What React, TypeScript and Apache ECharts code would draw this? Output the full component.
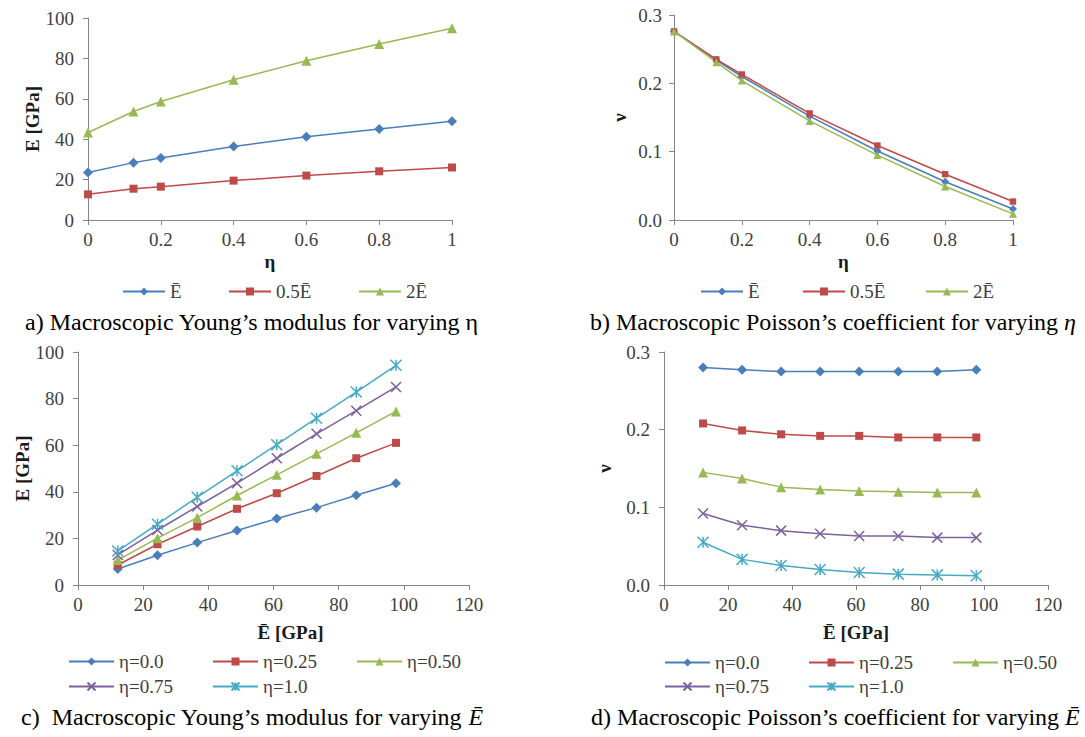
import React, { useEffect, useRef } from "react";
import * as echarts from "echarts";

// ---------- data ----------
const etaValues = [0, 0.125, 0.2, 0.4, 0.6, 0.8, 1];
const ebarValues = [12.2, 24.4, 36.6, 48.8, 61, 73.2, 85.4, 97.6];

const etaSeriesNames = ["Ē", "0.5Ē", "2Ē"];
const youngEtaE = [23.5, 28.4, 30.7, 36.4, 41.2, 45.1, 48.9];
const youngEtaHalf = [12.7, 15.5, 16.5, 19.5, 22.0, 24.1, 26.0];
const youngEtaDouble = [43.3, 53.7, 58.7, 69.4, 78.8, 87.1, 94.9];

const poissonEtaE = [0.276, 0.234, 0.21, 0.152, 0.101, 0.056, 0.016];
const poissonEtaHalf = [0.276, 0.235, 0.213, 0.156, 0.109, 0.067, 0.027];
const poissonEtaDouble = [0.276, 0.231, 0.204, 0.145, 0.095, 0.049, 0.009];

const ebarSeriesNames = ["η=0.0", "η=0.25", "η=0.50", "η=0.75", "η=1.0"];
const youngE_eta000 = [6.9, 12.8, 18.2, 23.4, 28.5, 33.2, 38.5, 43.7];
const youngE_eta025 = [8.6, 17.5, 25.1, 32.7, 39.4, 46.8, 54.4, 61.0];
const youngE_eta050 = [10.7, 20.1, 28.9, 38.4, 47.3, 56.3, 65.3, 74.5];
const youngE_eta075 = [12.9, 23.6, 33.7, 43.7, 54.4, 64.9, 74.8, 85.0];
const youngE_eta100 = [14.6, 26.1, 37.7, 49.0, 60.2, 71.6, 82.8, 94.3];

const poissonE_eta000 = [0.28, 0.277, 0.275, 0.275, 0.275, 0.275, 0.275, 0.277];
const poissonE_eta025 = [0.208, 0.199, 0.194, 0.192, 0.192, 0.19, 0.19, 0.19];
const poissonE_eta050 = [0.145, 0.137, 0.126, 0.123, 0.121, 0.12, 0.119, 0.119];
const poissonE_eta075 = [0.092, 0.077, 0.07, 0.066, 0.063, 0.063, 0.061, 0.061];
const poissonE_eta100 = [0.055, 0.033, 0.025, 0.02, 0.016, 0.014, 0.013, 0.012];

const captionA = ["a) Macroscopic Young’s modulus for varying η", ""];
const captionB = ["b) Macroscopic Poisson’s coefficient for varying ", "η"];
const captionC = ["c)  Macroscopic Young’s modulus for varying ", "Ē"];
const captionD = ["d) Macroscopic Poisson’s coefficient for varying ", "Ē"];

// ---------- styles ----------
const FONT = "Liberation Serif";
const COLORS = ["#4A7EBB", "#BE4B48", "#98B954", "#7D60A0", "#46AAC5"];
const X_SYMBOL = "path://M0,0L10,10M10,0L0,10";
const STAR_SYMBOL = "path://M0,0L10,10M10,0L0,10M5,0L5,10";
const SYMBOLS = ["diamond", "rect", "triangle", X_SYMBOL, STAR_SYMBOL];
const SIZES = [10, 8, 10, 10, 11];

const zip = (xs: number[], ys: number[]) => xs.map((x, i) => [x, ys[i]]);

function makeSeries(name: string, idx: number, xs: number[], ys: number[], scale = 1) {
  const stroked = idx >= 3;
  return {
    type: "line",
    name,
    data: zip(xs, ys),
    symbol: SYMBOLS[idx],
    symbolSize: SIZES[idx] * scale,
    lineStyle: { color: COLORS[idx], width: 1.5 },
    itemStyle: stroked
      ? { color: COLORS[idx], borderColor: COLORS[idx], borderWidth: 1.5 }
      : { color: COLORS[idx] },
  };
}

const axisBase = () => ({
  type: "value",
  axisLine: { show: true, onZero: false, lineStyle: { color: "#868686", width: 1 } },
  axisTick: { show: true, length: 5, lineStyle: { color: "#868686" } },
  splitLine: { show: false },
  nameLocation: "middle",
  nameTextStyle: { fontFamily: FONT, fontSize: 19, fontWeight: "bold", color: "#1a1a1a" },
});
const labelBase = () => ({ fontFamily: FONT, fontSize: 19, color: "#404040" });

function legendItem(name: string, left: number, cy: number, w: number) {
  return {
    data: [name],
    left,
    top: cy - 10,
    padding: 0,
    itemWidth: w,
    itemHeight: 10,
    textStyle: { fontFamily: FONT, fontSize: 19, color: "#404040" },
  };
}

function measure(text: string, font: string) {
  const ctx = document.createElement("canvas").getContext("2d");
  if (!ctx) return text.length * 10;
  ctx.font = font;
  return ctx.measureText(text).width;
}

function caption(parts: string[], left: number, top: number) {
  const els: any[] = [
    { type: "text", left, top, style: { text: parts[0], fontFamily: FONT, fontSize: 24, fill: "#000" } },
  ];
  if (parts[1]) {
    const w = measure(parts[0], `24px ${FONT}`);
    els.push({
      type: "text", left: left + w, top,
      style: { text: parts[1], fontFamily: FONT, fontSize: 24, fontStyle: "italic", fill: "#000" },
    });
  }
  return els;
}

const fmt1 = (v: number) => v.toFixed(1);
const fmtEta = (v: number) => String(+v.toFixed(1));

function buildOptions(): any[] {
  const a = {
    grid: { left: 88, top: 18, width: 364, height: 202 },
    xAxis: { ...axisBase(), min: 0, max: 1, interval: 0.2, name: "η", nameGap: 32,
      axisLabel: { ...labelBase(), margin: 10, formatter: fmtEta } },
    yAxis: { ...axisBase(), min: 0, max: 100, interval: 20, name: "E [GPa]", nameGap: 29,
      axisLabel: { ...labelBase(), margin: 14 } },
    legend: [
      legendItem(etaSeriesNames[0], 122, 292, 42),
      legendItem(etaSeriesNames[1], 228, 292, 42),
      legendItem(etaSeriesNames[2], 358, 292, 42),
    ],
    series: [
      makeSeries(etaSeriesNames[0], 0, etaValues, youngEtaE),
      makeSeries(etaSeriesNames[1], 1, etaValues, youngEtaHalf),
      makeSeries(etaSeriesNames[2], 2, etaValues, youngEtaDouble),
    ],
    graphic: caption(captionA, 25, 310),
  };
  const b = {
    grid: { left: 674, top: 15, width: 339, height: 205 },
    xAxis: { ...axisBase(), min: 0, max: 1, interval: 0.2, name: "η", nameGap: 32,
      axisLabel: { ...labelBase(), margin: 10, formatter: fmtEta } },
    yAxis: { ...axisBase(), min: 0, max: 0.3, interval: 0.1, name: "ν", nameGap: 45,
      axisLabel: { ...labelBase(), margin: 12, formatter: fmt1 } },
    legend: [
      legendItem(etaSeriesNames[0], 700, 292, 42),
      legendItem(etaSeriesNames[1], 802, 292, 42),
      legendItem(etaSeriesNames[2], 925, 292, 42),
    ],
    series: [
      makeSeries(etaSeriesNames[0], 0, etaValues, poissonEtaE, 0.8),
      makeSeries(etaSeriesNames[1], 1, etaValues, poissonEtaHalf, 0.8),
      makeSeries(etaSeriesNames[2], 2, etaValues, poissonEtaDouble, 0.8),
    ],
    graphic: caption(captionB, 590, 310),
  };
  const xc = axisBase();
  const c = {
    grid: { left: 78, top: 352, width: 391, height: 233 },
    xAxis: { ...xc, min: 0, max: 120, interval: 20, name: "Ē [GPa]", nameGap: 38,
      nameTextStyle: { ...xc.nameTextStyle, padding: [0, 0, 0, 34] },
      axisLabel: { ...labelBase(), margin: 10 } },
    yAxis: { ...axisBase(), min: 0, max: 100, interval: 20, name: "E [GPa]", nameGap: 46,
      axisLabel: { ...labelBase(), margin: 14 } },
    legend: [
      legendItem(ebarSeriesNames[0], 68, 662, 45),
      legendItem(ebarSeriesNames[1], 212, 662, 45),
      legendItem(ebarSeriesNames[2], 356, 662, 45),
      legendItem(ebarSeriesNames[3], 68, 687, 45),
      legendItem(ebarSeriesNames[4], 212, 687, 45),
    ],
    series: [
      makeSeries(ebarSeriesNames[0], 0, ebarValues, youngE_eta000),
      makeSeries(ebarSeriesNames[1], 1, ebarValues, youngE_eta025),
      makeSeries(ebarSeriesNames[2], 2, ebarValues, youngE_eta050),
      makeSeries(ebarSeriesNames[3], 3, ebarValues, youngE_eta075),
      makeSeries(ebarSeriesNames[4], 4, ebarValues, youngE_eta100),
    ],
    graphic: caption(captionC, 21, 705),
  };
  const d = {
    grid: { left: 664, top: 352, width: 384, height: 233 },
    xAxis: { ...axisBase(), min: 0, max: 120, interval: 20, name: "Ē [GPa]", nameGap: 38,
      axisLabel: { ...labelBase(), margin: 10 } },
    yAxis: { ...axisBase(), min: 0, max: 0.3, interval: 0.1, name: "ν", nameGap: 50,
      axisLabel: { ...labelBase(), margin: 14, formatter: fmt1 } },
    legend: [
      legendItem(ebarSeriesNames[0], 664, 663, 45),
      legendItem(ebarSeriesNames[1], 808, 663, 45),
      legendItem(ebarSeriesNames[2], 952, 663, 45),
      legendItem(ebarSeriesNames[3], 664, 687, 45),
      legendItem(ebarSeriesNames[4], 808, 687, 45),
    ],
    series: [
      makeSeries(ebarSeriesNames[0], 0, ebarValues, poissonE_eta000),
      makeSeries(ebarSeriesNames[1], 1, ebarValues, poissonE_eta025),
      makeSeries(ebarSeriesNames[2], 2, ebarValues, poissonE_eta050),
      makeSeries(ebarSeriesNames[3], 3, ebarValues, poissonE_eta075),
      makeSeries(ebarSeriesNames[4], 4, ebarValues, poissonE_eta100),
    ],
    graphic: caption(captionD, 591, 705),
  };
  return [a, b, c, d].map((p) => ({ animation: false, ...p }));
}

function Panel({ index }: { index: number }) {
  const ref = useRef<HTMLDivElement>(null);
  useEffect(() => {
    if (!ref.current) return;
    const chart = echarts.init(ref.current, undefined, { renderer: "svg" });
    chart.setOption(buildOptions()[index]);
    return () => chart.dispose();
  }, [index]);
  return (
    <div
      ref={ref}
      style={{ position: "absolute", left: 0, top: 0, width: 1085, height: 737 }}
    />
  );
}

export default function App() {
  return (
    <div style={{ position: "absolute", left: 0, top: 0, width: 1085, height: 737, background: "#fff" }}>
      <Panel index={0} />
      <Panel index={1} />
      <Panel index={2} />
      <Panel index={3} />
    </div>
  );
}
